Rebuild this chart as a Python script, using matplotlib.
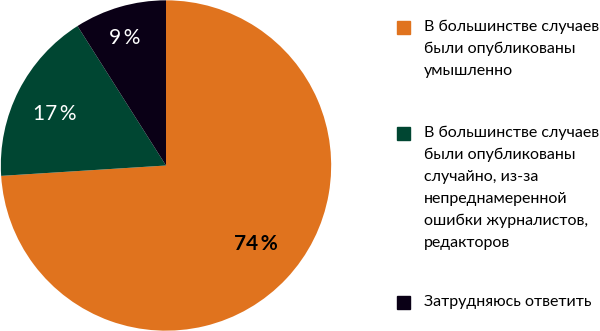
import matplotlib
matplotlib.use("Agg")
import numpy as np
from matplotlib import pyplot as plt
from matplotlib.patches import Rectangle

plt.rcParams['font.family'] = ['Lato', 'Open Sans', 'DejaVu Sans']

# data
labels = ["В большинстве случаев\nбыли опубликованы\nумышленно",
          "В большинстве случаев\nбыли опубликованы\nслучайно, из-за\nнепреднамеренной\nошибки журналистов,\nредакторов",
          "Затрудняюсь ответить"]
values = [74, 17, 9]
pct_text = ["74\u2009%", "17\u2009%", "9\u2009%"]
colors = ["#E0731E", "#004632", "#0A0016"]
text_colors = ["#000000", "#FFFFFF", "#FFFFFF"]
text_weights = ["bold", "normal", "normal"]
label_dist = [0.72, 0.74, 0.81]

fig = plt.figure(figsize=(6.0, 3.31), dpi=100)
ax = fig.add_axes([0.0, 0.0, 332 / 600, 1.0])
wedges, _ = ax.pie(values, colors=colors, startangle=90, counterclock=False,
                   radius=1.0, wedgeprops=dict(linewidth=0))
ax.set_xlim(-1.005, 1.005)
ax.set_ylim(-1.0, 1.0)
ax.set_aspect('equal')
ax.axis('off')

for w, t, c, fw, d in zip(wedges, pct_text, text_colors, text_weights, label_dist):
    ang = np.deg2rad((w.theta1 + w.theta2) / 2 + 2)
    ax.text(d * np.cos(ang), d * np.sin(ang), t, ha='center', va='center',
            fontsize=15, color=c, fontweight=fw)

# legend drawn by hand: first-line centre y (px) for each entry
first_line = [27, 133, 302]
line_h = 22
for lab, col, y0 in zip(labels, colors, first_line):
    fig.patches.append(Rectangle((397 / 600, 1 - (y0 + 7) / 331), 13 / 600, 13 / 331,
                                 transform=fig.transFigure, color=col))
    for k, line in enumerate(lab.split("\n")):
        fig.text(424 / 600, 1 - (y0 + k * line_h) / 331, line, ha='left',
                 va='center', fontsize=11.5, color='#000000')

fig.savefig("out.png", dpi=100)
